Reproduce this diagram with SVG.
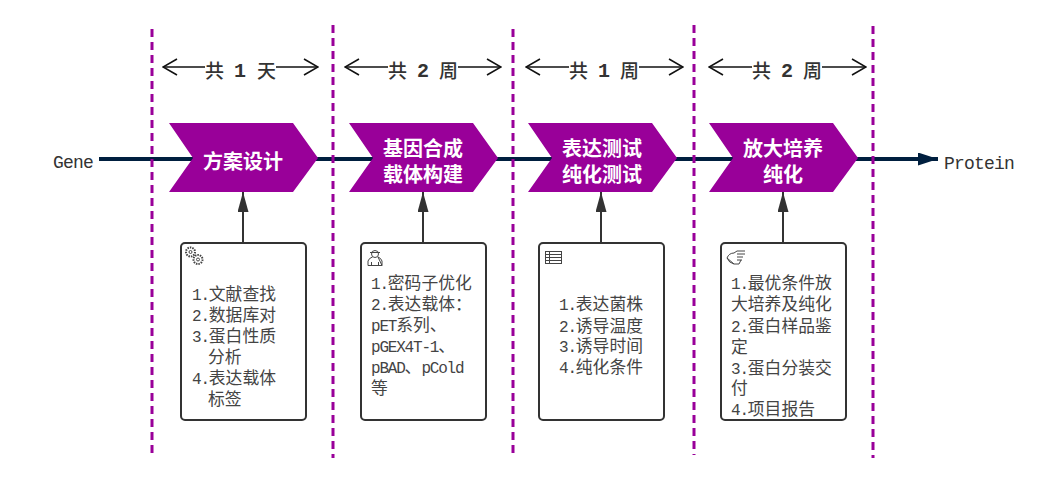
<svg xmlns="http://www.w3.org/2000/svg" width="1051" height="484" viewBox="0 0 1051 484">
<style>
.dash{stroke:#990099;stroke-width:3;stroke-dasharray:8 5;fill:none}
.main{stroke:#001f3f;stroke-width:4;fill:none}
.span{stroke:#111;stroke-width:1.6;fill:none}
.up{stroke:#333;stroke-width:2;fill:none}
.chev{fill:#990099}
.box{fill:#fff;stroke:#333;stroke-width:2}
.ct{font-family:"Noto Sans CJK SC","Liberation Sans",sans-serif;font-size:20px;font-weight:700;fill:#fff;text-anchor:middle}
.body{font-family:"Noto Sans CJK SC",sans-serif;font-size:16.8px;fill:#444}
.m{font-family:"Liberation Mono",monospace;font-size:16px;letter-spacing:-1.2px}
.lab{font-family:"Liberation Mono",monospace;font-size:18px;fill:#333;letter-spacing:-.8px}
.dur{font-family:"Noto Sans CJK SC",sans-serif;font-size:19px;font-weight:500;fill:#333}
.durn{font-family:"Liberation Mono",monospace;font-size:20px;font-weight:700;fill:#333}
.ic{fill:none;stroke:#444;stroke-width:1}
</style>
<defs>
<marker id="open" viewBox="0 0 16 18" refX="15" refY="9" markerWidth="16" markerHeight="18" markerUnits="userSpaceOnUse" orient="auto-start-reverse"><path d="M1 1L15 9L1 17" fill="none" stroke="#111" stroke-width="1.6"/></marker>
<marker id="navy" viewBox="0 0 20 13" refX="20" refY="6.500" markerWidth="20" markerHeight="13" markerUnits="userSpaceOnUse" orient="auto"><path d="M0 0L20 6.500L0 13Z" fill="#001f3f"/></marker>
<marker id="gray" viewBox="0 0 20 11" refX="20" refY="5.500" markerWidth="20" markerHeight="11" markerUnits="userSpaceOnUse" orient="auto"><path d="M0 0L20 5.500L0 11Z" fill="#333"/></marker>
</defs>
<g id="connectors">
<path class="main" d="M99 159H938" marker-end="url(#navy)"/>
<path class="span" d="M205 67H163" marker-end="url(#open)"/>
<path class="span" d="M276 67H318" marker-end="url(#open)"/>
<path class="span" d="M388 67H345" marker-end="url(#open)"/>
<path class="span" d="M458 67H501" marker-end="url(#open)"/>
<path class="span" d="M569 67H526" marker-end="url(#open)"/>
<path class="span" d="M639 67H683" marker-end="url(#open)"/>
<path class="span" d="M752 67H709" marker-end="url(#open)"/>
<path class="span" d="M822 67H866" marker-end="url(#open)"/>
<path class="up" d="M243 243V192" marker-end="url(#gray)"/>
<path class="up" d="M423 243V192" marker-end="url(#gray)"/>
<path class="up" d="M601 243V192" marker-end="url(#gray)"/>
<path class="up" d="M783 243V192" marker-end="url(#gray)"/>
</g>
<g id="dividers">
<path class="dash" d="M152 29V455"/>
<path class="dash" d="M333 25V458"/>
<path class="dash" d="M513 29V453"/>
<path class="dash" d="M694 25V455"/>
<path class="dash" d="M873 26V458"/>
</g>
<g id="gene"><text class="lab" x="53" y="168">Gene</text></g>
<g id="protein"><text class="lab" x="944" y="169">Protein</text></g>
<g id="dur1"><text class="dur" x="205" y="78">共</text><text class="durn" x="234" y="77">1</text><text class="dur" x="257" y="78">天</text></g>
<g id="dur2"><text class="dur" x="388" y="78">共</text><text class="durn" x="417" y="77">2</text><text class="dur" x="439" y="78">周</text></g>
<g id="dur3"><text class="dur" x="569" y="78">共</text><text class="durn" x="598" y="77">1</text><text class="dur" x="620" y="78">周</text></g>
<g id="dur4"><text class="dur" x="752" y="78">共</text><text class="durn" x="781" y="77">2</text><text class="dur" x="803" y="78">周</text></g>
<g id="step1"><path class="chev" d="M169 123H293L318 158L293 192H169L193 158Z"/><text class="ct" x="243" y="169">方案设计</text></g>
<g id="step2"><path class="chev" d="M349 123H473L498 158L473 192H349L373 158Z"/><text class="ct" x="423" y="156">基因合成</text><text class="ct" x="423" y="182">载体构建</text></g>
<g id="step3"><path class="chev" d="M528 123H652L677 158L652 192H528L552 158Z"/><text class="ct" x="602" y="156">表达测试</text><text class="ct" x="602" y="182">纯化测试</text></g>
<g id="step4"><path class="chev" d="M709 123H833L858 158L833 192H709L733 158Z"/><text class="ct" x="783" y="156">放大培养</text><text class="ct" x="783" y="182">纯化</text></g>
<g id="box1"><rect class="box" x="181" y="243" width="125" height="177" rx="4"/>
<g class="ic"><circle cx="190.500" cy="252" r="4.500" stroke-dasharray="1.500 1" stroke-width="2"/><circle cx="198" cy="259.500" r="4.500" stroke-dasharray="1.500 1" stroke-width="2"/><circle cx="190.500" cy="252" r="1.500"/><circle cx="198" cy="259.500" r="1.500"/></g>
<text class="body" x="192" y="300"><tspan class="m">1.</tspan>文献查找</text>
<text class="body" x="192" y="321"><tspan class="m">2.</tspan>数据库对</text>
<text class="body" x="192" y="342"><tspan class="m">3.</tspan>蛋白性质</text>
<text class="body" x="208" y="363">分析</text>
<text class="body" x="192" y="384"><tspan class="m">4.</tspan>表达载体</text>
<text class="body" x="208" y="405">标签</text></g>
<g id="box2"><rect class="box" x="361" y="243" width="125" height="177" rx="4"/>
<g class="ic"><circle cx="375" cy="254" r="3.500"/><path d="M370 252.500H380M368 265.500V261Q369 258 372.500 257M378 257Q381 258 382 261V265.500ZM368 265.500H382M371.500 262V265.500M378.500 262V265.500"/></g>
<text class="body" x="371" y="289"><tspan class="m">1.</tspan>密码子优化</text>
<text class="body" x="371" y="310"><tspan class="m">2.</tspan>表达载体：</text>
<text class="body" x="371" y="331"><tspan class="m">pET</tspan>系列、</text>
<text class="body" x="371" y="352"><tspan class="m">pGEX4T-1</tspan>、</text>
<text class="body" x="371" y="373"><tspan class="m">pBAD</tspan>、<tspan class="m">pCold</tspan></text>
<text class="body" x="371" y="394">等</text></g>
<g id="box3"><rect class="box" x="539" y="243" width="125" height="177" rx="4"/>
<g class="ic"><rect x="545.500" y="251.500" width="16" height="12"/><path d="M545.500 254.500H561.500M545.500 257.500H561.500M545.500 260.500H561.500M549.500 251.500V263.500"/></g>
<text class="body" x="559" y="310"><tspan class="m">1.</tspan>表达菌株</text>
<text class="body" x="559" y="332"><tspan class="m">2.</tspan>诱导温度</text>
<text class="body" x="559" y="352"><tspan class="m">3.</tspan>诱导时间</text>
<text class="body" x="559" y="373"><tspan class="m">4.</tspan>纯化条件</text></g>
<g id="box4"><rect class="box" x="721" y="243" width="125" height="177" rx="4"/>
<g class="ic"><path d="M727 258Q729 253 734 253L737 251H745M737 254H745M737 257H743M737 260H742M734 264H739L741 260M734 264Q729 263 727 258Z"/></g>
<text class="body" x="731" y="289"><tspan class="m">1.</tspan>最优条件放</text>
<text class="body" x="731" y="310">大培养及纯化</text>
<text class="body" x="731" y="332"><tspan class="m">2.</tspan>蛋白样品鉴</text>
<text class="body" x="731" y="353">定</text>
<text class="body" x="731" y="374"><tspan class="m">3.</tspan>蛋白分装交</text>
<text class="body" x="731" y="394">付</text>
<text class="body" x="731" y="415"><tspan class="m">4.</tspan>项目报告</text></g>
</svg>
